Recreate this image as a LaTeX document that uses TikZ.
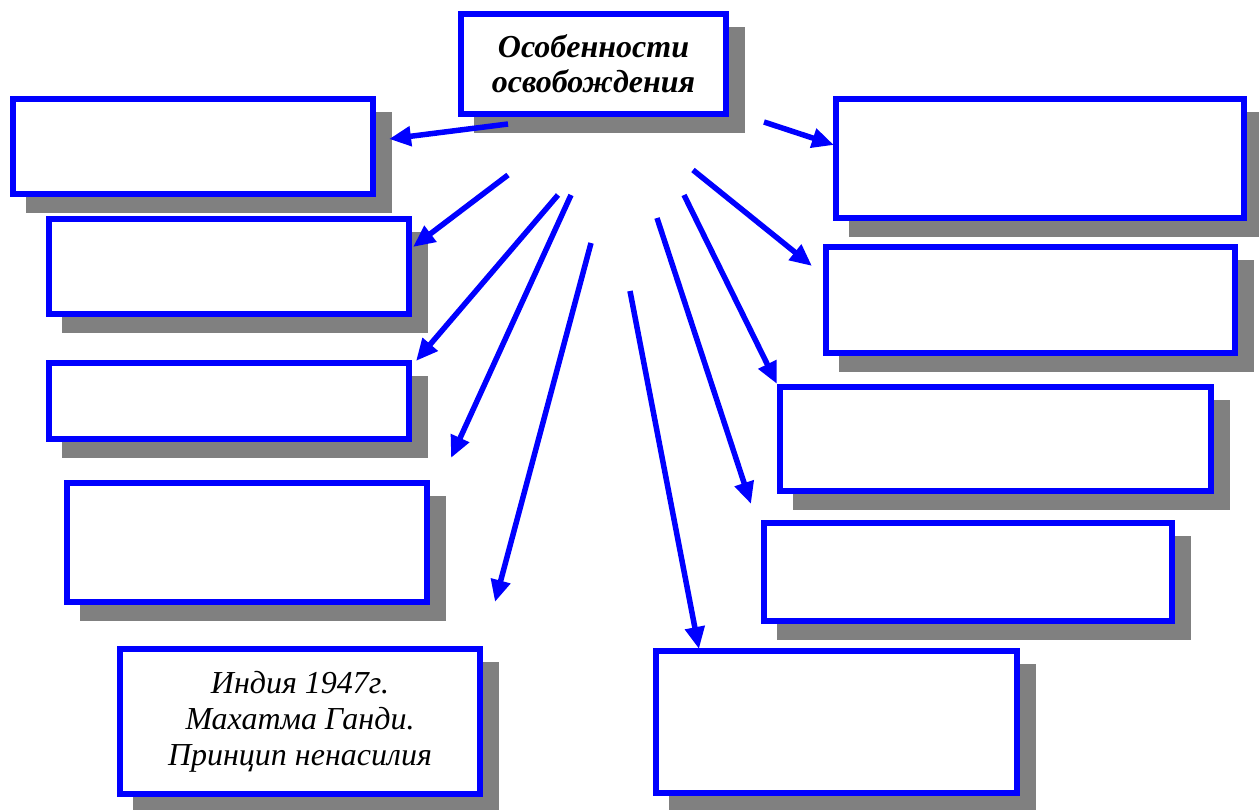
\documentclass[tikz,border=0pt]{standalone}
\usepackage{fontspec}
\setmainfont{Liberation Serif}
\usetikzlibrary{arrows.meta,shadows}
\definecolor{bblue}{RGB}{0,0,255}
\definecolor{sgray}{RGB}{128,128,128}
\begin{document}
\begin{tikzpicture}[x=1pt,y=-1pt,
  box/.style={draw=bblue,line width=6pt,fill=white,inner sep=0pt,
    general shadow={fill=sgray,draw=sgray,line width=6pt,shadow xshift=16pt,shadow yshift=-16pt}},
  arr/.style={draw=bblue,line width=5.5pt,-{Triangle[length=22pt,width=19pt]}}]
\useasboundingbox (0,0) rectangle (1259,810);
\node[box,minimum width=265pt,minimum height=100pt,align=center,
  font=\fontsize{32}{35}\selectfont\bfseries\itshape] (top) at (593.5,64) {Особенности\\освобождения};
\node[box,minimum width=360pt,minimum height=95pt] (l1) at (193,146.5) {};
\node[box,minimum width=360pt,minimum height=95pt] (l2) at (229,266.5) {};
\node[box,minimum width=360pt,minimum height=76pt] (l3) at (229,401) {};
\node[box,minimum width=360pt,minimum height=119pt] (l4) at (247,542.5) {};
\node[box,minimum width=360pt,minimum height=145pt,align=center,
  font=\fontsize{32}{36}\selectfont\itshape] (bl) at (300,721.5) {Индия 1947г.\\Махатма Ганди.\\Принцип ненасилия};
\node[box,minimum width=408pt,minimum height=119pt] (r1) at (1040,158.5) {};
\node[box,minimum width=409pt,minimum height=106pt] (r2) at (1030.5,300) {};
\node[box,minimum width=431pt,minimum height=104pt] (r3) at (995.5,439) {};
\node[box,minimum width=408pt,minimum height=98pt] (r4) at (968,572) {};
\node[box,minimum width=361pt,minimum height=142pt] (br) at (836.5,722) {};
% arrow start and end points
\coordinate (s1) at (508,124); \coordinate (e1) at (389,139);
\coordinate (s2) at (508,175); \coordinate (e2) at (413,247);
\coordinate (s3) at (558,195); \coordinate (e3) at (416,361);
\coordinate (s4) at (571,195); \coordinate (e4) at (451,458);
\coordinate (s5) at (591,243); \coordinate (e5) at (495,602);
\coordinate (s6) at (630,291); \coordinate (e6) at (699,649);
\coordinate (s7) at (657,218); \coordinate (e7) at (751,504);
\coordinate (s8) at (684,195); \coordinate (e8) at (777,384);
\coordinate (s9) at (693,170); \coordinate (e9) at (812,266);
\coordinate (s10) at (764,122); \coordinate (e10) at (834,145);
\foreach \i in {1,...,10} {\draw[arr] (s\i) -- (e\i);}
\end{tikzpicture}
\end{document}
